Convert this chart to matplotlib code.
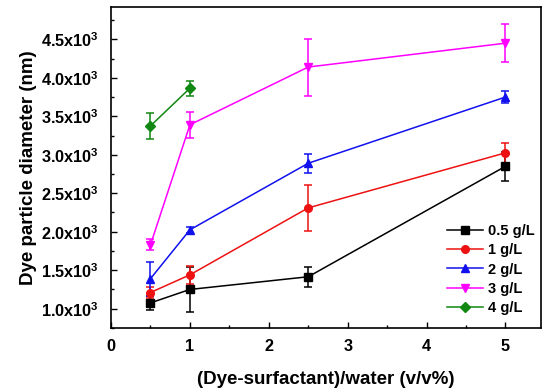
import matplotlib
matplotlib.use('Agg')
import matplotlib.pyplot as plt
from matplotlib.ticker import MultipleLocator, FuncFormatter

plt.rcParams['font.family'] = ['Liberation Sans', 'DejaVu Sans']
plt.rcParams['font.weight'] = 'bold'
plt.rcParams['mathtext.fontset'] = 'custom'
plt.rcParams['mathtext.rm'] = 'Liberation Sans:bold'
plt.rcParams['mathtext.bf'] = 'Liberation Sans:bold'
plt.rcParams['mathtext.default'] = 'bf'

# data
x_all = [0.5, 1, 2.5, 5]
x_short = [0.5, 1]

y_05 = [1075, 1250, 1415, 2850]
e_05 = [90, 290, 130, 190]
y_1 = [1210, 1440, 2310, 3025]
e_1 = [70, 115, 300, 130]
y_2 = [1390, 2025, 2890, 3750]
e_2 = [220, 40, 125, 80]
y_3 = [1830, 3390, 4140, 4450]
e_3 = [70, 170, 370, 250]
y_4 = [3375, 3865]
e_4 = [165, 95]

labels = ['0.5 g/L', '1 g/L', '2 g/L', '3 g/L', '4 g/L']

fig = plt.figure(figsize=(5.47, 3.89), dpi=100)
ax = fig.add_axes([0.203, 0.157, 0.786, 0.825])

series = [
    (x_all, y_05, e_05, 'black', 's'),
    (x_all, y_1, e_1, '#ee1111', 'o'),
    (x_all, y_2, e_2, '#1111ee', '^'),
    (x_all, y_3, e_3, '#ff00ff', 'v'),
    (x_short, y_4, e_4, '#118811', 'D'),
]
handles = []
for xs, ys, es, c, m in series:
    cont = ax.errorbar(xs, ys, yerr=es, color=c, marker=m, markersize=5.5 if m != 'D' else 5,
                       linewidth=1.1, capsize=3, elinewidth=1.1, capthick=1.1)
    handles.append(cont[0])

ax.set_xlim(0, 5.45)
ax.set_ylim(750, 4920)
ax.xaxis.set_major_locator(MultipleLocator(1))
ax.xaxis.set_minor_locator(MultipleLocator(0.5))
ax.yaxis.set_major_locator(MultipleLocator(500))
ax.yaxis.set_minor_locator(MultipleLocator(250))
ax.yaxis.set_major_formatter(FuncFormatter(lambda v, p: r'$%.1fx10^3$' % (v / 1000)))
ax.xaxis.set_major_formatter(FuncFormatter(lambda v, p: '%d' % v))
ax.tick_params(which='both', direction='in', labelsize=11.7, width=1)
ax.tick_params(axis='y', pad=9)
ax.tick_params(axis='x', pad=8)
ax.tick_params(which='major', length=4)
ax.tick_params(which='minor', length=2.5)
for s in ax.spines.values():
    s.set_linewidth(1.2)

ax.set_xlabel('(Dye-surfactant)/water (v/v%)', fontsize=13.5, fontweight='bold', labelpad=12)
ax.set_ylabel('Dye particle diameter (nm)', fontsize=13.5, fontweight='bold', labelpad=3)

ax.legend(handles, labels, loc='lower right', frameon=False, fontsize=10.5, handlelength=2.5,
          handletextpad=0.3, labelspacing=0.35, bbox_to_anchor=(1.015, 0.0))

fig.savefig('out.png', dpi=100)
